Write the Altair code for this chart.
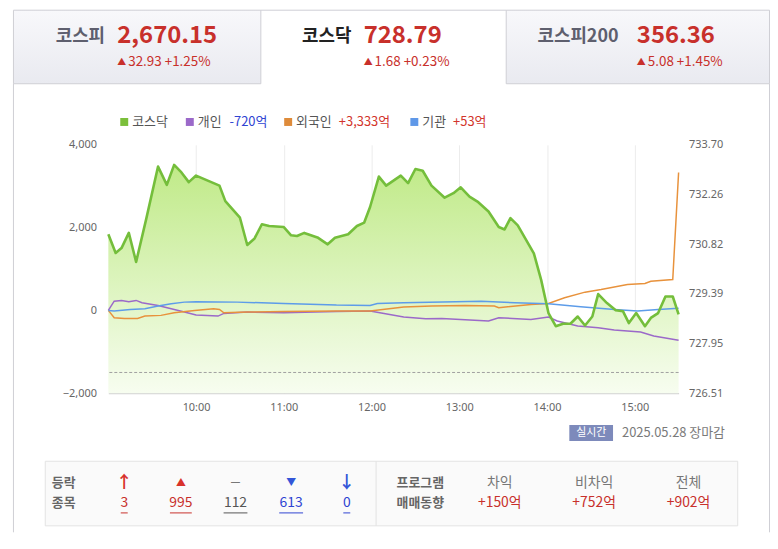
import altair as alt
import pandas as pd

FONT = "Noto Sans CJK KR"
AXFONT = "Noto Sans"
OX, OY = 109, 144          # page position of the plot area's top-left corner
W, H = 574, 250
DAY = "2025-05-28T"

# ---------------- data ----------------
kosdaq_time = ["09:00", "09:05", "09:09", "09:14", "09:19", "09:26", "09:34", "09:40", "09:45", "09:50",
               "09:55", "10:00", "10:16", "10:20", "10:30", "10:35", "10:40", "10:45", "10:50", "11:00",
               "11:05", "11:09", "11:14", "11:23", "11:30", "11:35", "11:44", "11:50", "11:55", "11:59",
               "12:05", "12:10", "12:20", "12:25", "12:30", "12:35", "12:41", "12:50", "12:56", "13:01",
               "13:07", "13:13", "13:20", "13:27", "13:31", "13:35", "13:40", "13:51", "13:56", "14:01",
               "14:06", "14:11", "14:16", "14:21", "14:26", "14:31", "14:35", "14:41", "14:47", "14:52",
               "14:56", "15:01", "15:07", "15:11", "15:16", "15:21", "15:26", "15:30"]
kosdaq_value = [731.11, 730.57, 730.71, 731.15, 730.31, 731.57, 733.07, 732.54, 733.12, 732.90,
                732.62, 732.81, 732.52, 732.07, 731.59, 730.80, 730.99, 731.40, 731.35, 731.32,
                731.08, 731.06, 731.15, 731.02, 730.82, 731.01, 731.11, 731.35, 731.45, 731.90,
                732.78, 732.52, 732.81, 732.59, 733.00, 732.95, 732.52, 732.17, 732.30, 732.47,
                732.20, 732.04, 731.77, 731.32, 731.25, 731.58, 731.37, 730.56, 729.79, 728.83,
                728.45, 728.52, 728.52, 728.73, 728.47, 728.73, 729.38, 729.12, 728.91, 728.88,
                728.54, 728.83, 728.45, 728.69, 728.83, 729.31, 729.31, 728.79]
prev_close = 727.11

indiv_time = ["09:00", "09:04", "09:09", "09:14", "09:19", "09:23", "09:34", "09:43", "09:52", "10:00",
              "10:15", "10:19", "10:35", "11:00", "11:36", "11:59", "12:22", "12:37", "12:48", "13:20",
              "13:27", "13:49", "14:01", "14:07", "14:21", "14:35", "14:46", "15:04", "15:13", "15:22", "15:30"]
indiv_value = [0, 224, 241, 209, 241, 185, 120, 40, -40, -113,
               -137, -72, -40, -56, -24, -16, -161, -200, -193, -257,
               -176, -217, -161, -257, -378, -417, -474, -523, -619, -675, -720]

foreign_time = ["09:00", "09:04", "09:11", "09:20", "09:25", "09:36", "09:45", "09:59", "10:12", "10:16",
                "10:19", "10:35", "11:00", "11:36", "11:59", "12:22", "12:41", "13:04", "13:24", "13:27",
                "13:49", "14:01", "14:12", "14:26", "14:37", "14:55", "15:07", "15:11", "15:26", "15:30"]
foreign_value = [0, -176, -193, -193, -137, -120, -56, 0, 40, 24,
                 -56, -40, -24, -16, -16, 80, 104, 120, 104, 65,
                 145, 169, 306, 441, 506, 627, 651, 706, 747, 3333]

inst_time = ["09:00", "09:04", "09:15", "09:25", "09:34", "09:43", "09:52", "10:00", "10:28", "11:00",
             "11:36", "11:59", "12:04", "12:22", "13:15", "13:38", "14:01", "14:23", "14:46", "15:02",
             "15:16", "15:30"]
inst_value = [0, -16, 24, 40, 104, 161, 200, 209, 200, 169,
              128, 120, 169, 185, 224, 185, 161, 88, 24, -16,
              24, 53]

series_names = ["개인", "외국인", "기관"]
series_colors = ["#9b69c9", "#e8923c", "#5d9ce9"]

left_domain = [-2000, 4000]
left_ticks = [-2000, 0, 2000, 4000]
right_domain = [726.51, 733.70]
right_ticks = [726.51, 727.95, 729.39, 730.82, 732.26, 733.70]
hour_ticks = [10, 11, 12, 13, 14, 15]

tabs = [("코스피", "2,670.15", "32.93 +1.25%"),
        ("코스닥", "728.79", "1.68 +0.23%"),
        ("코스피200", "356.36", "5.08 +1.45%")]
legend_items = [("코스닥", ""), ("개인", "-720억"), ("외국인", "+3,333억"), ("기관", "+53억")]
legend_colors = ["#7bbf3b", "#9b69c9", "#de8b3a", "#5f98e8"]
updown_counts = ["3", "995", "112", "613", "0"]
program_labels = ["차익", "비차익", "전체"]
program_values = ["+150억", "+752억", "+902억"]
date_text = "2025.05.28 장마감"


def ts(lst):
    return [DAY + t + ":00" for t in lst]


def DT(h, m=0):
    return alt.DateTime(year=2025, month=5, date=28, hours=h, minutes=m)


kdf = pd.DataFrame({"t": ts(kosdaq_time), "v": kosdaq_value})
idf = pd.concat([
    pd.DataFrame({"t": ts(indiv_time), "v": indiv_value, "s": series_names[0]}),
    pd.DataFrame({"t": ts(foreign_time), "v": foreign_value, "s": series_names[1]}),
    pd.DataFrame({"t": ts(inst_time), "v": inst_value, "s": series_names[2]}),
], ignore_index=True)
one = pd.DataFrame({"a": [0]})

# ---------------- helpers for page furniture ----------------
def T(text, px, py, size=13, color="#555", weight="normal", align="left", font=FONT):
    return alt.Chart(one).mark_text(text=text, fontSize=size, color=color, fontWeight=weight,
                                    align=align, baseline="middle", font=font).encode(
        x=alt.value(px - OX), y=alt.value(py - OY))


def R(x1, y1, x2, y2, fill, stroke=None):
    kw = dict(fill=fill)
    if stroke:
        kw.update(stroke=stroke, strokeWidth=1)
    else:
        kw.update(strokeWidth=0)
    return alt.Chart(one).mark_rect(**kw).encode(
        x=alt.value(x1 - OX), x2=alt.value(x2 - OX), y=alt.value(y1 - OY), y2=alt.value(y2 - OY))


def L(x1, y1, x2, y2, color="#cfcfd5", width=1):
    return alt.Chart(one).mark_rule(color=color, strokeWidth=width).encode(
        x=alt.value(x1 - OX), x2=alt.value(x2 - OX), y=alt.value(y1 - OY), y2=alt.value(y2 - OY))


tab_grad = alt.Gradient(gradient="linear", x1=0, x2=0, y1=0, y2=1,
                        stops=[alt.GradientStop(color="#f8f8fb", offset=0),
                               alt.GradientStop(color="#e9eaf0", offset=1)])
RED = "#c8302b"
BLUE = "#2f44d2"
BORDER = "#cfcfd5"

layers = []
# tabs + panel
layers.append(R(13.5, 8.5, 262.5, 82.5, tab_grad, BORDER))
layers.append(R(509.5, 8.5, 774.5, 82.5, tab_grad, BORDER))
layers.append(L(262.5, 8.5, 509.5, 8.5, BORDER))
layers.append(L(13.5, 82.5, 13.5, 534, BORDER))
layers.append(L(774.5, 82.5, 774.5, 534, BORDER))
# table box
layers.append(R(45.5, 462.5, 742.5, 527.5, "#fafafa", "#e3e3e3"))
layers.append(L(378.5, 462.5, 378.5, 527.5, "#e3e3e3"))
# badge
layers.append(R(573, 426, 617, 442, "#7d8abb"))

# ---------------- chart layers ----------------
x_enc = alt.X("t:T", scale=alt.Scale(domain=[DT(9, 0), DT(15, 30)]),
              axis=alt.Axis(values=[DT(h) for h in hour_ticks], format="%H:%M", title=None,
                            labelFont=AXFONT, labelFontSize=11, labelColor="#666",
                            ticks=False, domainColor="#c8c8c8", gridColor="#ececec",
                            labelPadding=8, labelFlush=False))
lscale = alt.Scale(domain=left_domain, nice=False, zero=False)
rscale = alt.Scale(domain=right_domain, nice=False, zero=False)
laxis = alt.Axis(orient="left", values=left_ticks, format=",.0f", title=None, domain=False, ticks=False,
                 labelPadding=12, labelFont=AXFONT, labelFontSize=11, labelColor="#666", gridColor="#ececec")
raxis = alt.Axis(orient="right", values=right_ticks, format=".2f", title=None, domain=False, ticks=False,
                 grid=False, labelPadding=10, labelFont=AXFONT, labelFontSize=11, labelColor="#666")

area_grad = alt.Gradient(gradient="linear", x1=0, x2=0, y1=0, y2=1,
                         stops=[alt.GradientStop(color="#c0ea88", offset=0),
                                alt.GradientStop(color="#f7fdf0", offset=1)])
area = alt.Chart(kdf).mark_area(color=area_grad).encode(
    x=x_enc, y=alt.Y("v:Q", scale=rscale, axis=raxis), y2=alt.datum(right_domain[0]))
rule = alt.Chart(pd.DataFrame({"p": [prev_close]})).mark_rule(
    color="#a0a0a0", strokeDash=[3, 2], strokeWidth=1).encode(y=alt.Y("p:Q", scale=rscale, axis=None))
inv = alt.Chart(idf).mark_line(strokeWidth=1.5).encode(
    x=x_enc, y=alt.Y("v:Q", scale=lscale, axis=laxis),
    color=alt.Color("s:N", scale=alt.Scale(domain=series_names, range=series_colors), legend=None),
    detail="s:N")
kline = alt.Chart(kdf).mark_line(color="#74be3b", strokeWidth=2.6, strokeJoin="round").encode(
    x=x_enc, y=alt.Y("v:Q", scale=rscale, axis=None))
layers += [area, rule, inv, kline]

# ---------------- texts ----------------
tab_lx = [56, 304, 541]
tab_nx = [118, 366, 641]
for i, (name, val, chg) in enumerate(tabs):
    layers.append(T(name, tab_lx[i], 36, size=18, weight="bold",
                    color="#222" if i == 1 else "#5e5f6e"))
    layers.append(T(val, tab_nx[i], 35, size=24, weight="bold", color=RED))
    layers.append(T("▲", tab_nx[i], 61, size=9, color=RED))
    layers.append(T(chg, tab_nx[i] + 11, 61, size=13.5, color=RED))

leg_sq = [121, 187, 286, 413]
leg_lab = [133, 199, 298, 425]
leg_val = [None, 231, 341, 456]
for i, (lab, val) in enumerate(legend_items):
    layers.append(R(leg_sq[i], 117, leg_sq[i] + 8, 125, legend_colors[i]))
    layers.append(T(lab, leg_lab[i], 121, size=13, color="#555"))
    if val:
        layers.append(T(val, leg_val[i], 121, size=13, color=BLUE if val.startswith("-") else "#d2352c"))

layers.append(T("실시간", 595, 434, size=11, color="white", align="center"))
layers.append(T(date_text, 626, 434, size=13, color="#7a7a7a"))

# table
layers.append(T("등락", 64, 484, size=13, weight="bold", color="#666", align="center"))
layers.append(T("종목", 64, 505, size=13, weight="bold", color="#666", align="center"))
sym = ["↑", "▲", "━", "▼", "↓"]
sym_size = [17, 10, 9, 10, 17]
cols = ["#d8322b", "#d8322b", "#777", "#3356d8", "#3356d8"]
numcols = ["#c8302b", "#c8302b", "#555", "#2f44d2", "#2f44d2"]
cx = [125, 182, 237, 293, 349]
half = [3.5, 11, 12, 12, 3.5]
for i in range(5):
    layers.append(T(sym[i], cx[i], 484, size=sym_size[i], weight="bold", color=cols[i], align="center"))
    layers.append(T(updown_counts[i], cx[i], 505, size=14, color=numcols[i], align="center"))
    layers.append(L(cx[i] - half[i], 514.5, cx[i] + half[i], 514.5, numcols[i]))
layers.append(T("프로그램", 423, 484, size=13, weight="bold", color="#666", align="center"))
layers.append(T("매매동향", 423, 505, size=13, weight="bold", color="#666", align="center"))
px = [503, 598, 693]
for i in range(3):
    layers.append(T(program_labels[i], px[i], 484, size=14, color="#777", align="center"))
    layers.append(T(program_values[i], px[i], 505, size=14, color="#c8302b", align="center"))

chart = alt.layer(*layers).resolve_scale(y="independent").properties(
    width=W, height=H,
    padding={"left": OX - 8, "top": OY - 8, "right": 92, "bottom": 140},
    autosize=alt.AutoSizeParams(type="none"),
).configure_view(stroke=None)

chart.save("out.html", embed_options={"renderer": "svg", "actions": False})
